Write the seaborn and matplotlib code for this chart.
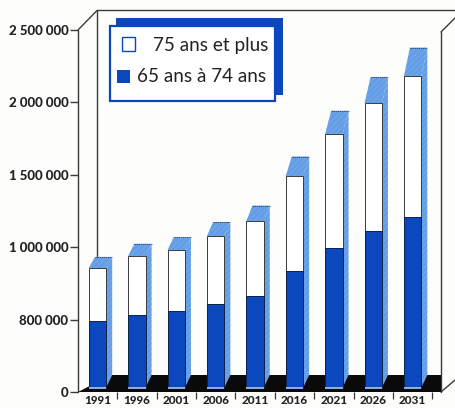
import matplotlib
matplotlib.use("Agg")
import matplotlib.pyplot as plt
import numpy as np
import pandas as pd
import seaborn as sns
from matplotlib.patches import Polygon, Rectangle

# valeurs
years = ["1991", "1996", "2001", "2006", "2011", "2016", "2021", "2026", "2031"]
age_65_74 = [490000, 532000, 559000, 608000, 663000, 836000, 994000, 1112000, 1209000]
total_65_plus = [856000, 939000, 981000, 1077000, 1181000, 1492000, 1782000, 1996000, 2182000]
y_ticks = [0, 500000, 1000000, 1500000, 2000000, 2500000]
y_tick_labels = ["0", "800 000", "1 000 000", "1 500 000", "2 000 000", "2 500 000"]
legend_labels = ["75 ans et plus", "65 ans à 74 ans"]

BLUE = "#0b47bd"
LIGHT = "#6aa3e8"
LIGHT_HATCH = "#5590de"
LINE = "#3a3a3a"
PAPER = "#fdfdfc"
BASE = 31000

W, H = 455, 408
sns.set_theme(style="white")
plt.rcParams["font.family"] = ["Lato", "DejaVu Sans"]
plt.rcParams["hatch.linewidth"] = 0.4

# les barres partent du bas du sol (BASE), pas de zero
df = pd.DataFrame({"year": years,
                   "young": np.array(age_65_74) - BASE,
                   "total": np.array(total_65_plus) - BASE})

fig = plt.figure(figsize=(W / 100, H / 100), dpi=100, facecolor=PAPER)

# cadre "3D" en pixels, derriere le graphique
bg = fig.add_axes([0, 0, 1, 1], zorder=0)
bg.set_xlim(0, W)
bg.set_ylim(H, 0)
bg.axis("off")
bg.plot([78, 97, W], [30, 10.5, 10.5], color=LINE, lw=1)
bg.plot([97, 97], [10.5, 280], color=LINE, lw=1)
bg.plot([78, 78], [30, 392], color=LINE, lw=1)
bg.plot([441, 441], [32, 392], color=LINE, lw=1)
bg.plot([441, W], [32, 18], color=LINE, lw=1)
bg.plot([441, W], [392, 380], color=LINE, lw=1)

x0, x1, y_top, y_bot = 78, 441, 30, 392
ax = fig.add_axes([x0 / W, 1 - y_bot / H, (x1 - x0) / W, (y_bot - y_top) / H], zorder=1)
ax.patch.set_alpha(0)

sns.barplot(data=df, x="year", y="total", color="white", saturation=1, width=0.44,
            bottom=BASE, edgecolor=LINE, linewidth=0.7, ax=ax, zorder=3)
n_total = len(ax.patches)
sns.barplot(data=df, x="year", y="young", color=BLUE, saturation=1, width=0.44,
            bottom=BASE, edgecolor="#10204a", linewidth=0.7, ax=ax, zorder=4)
ax.set_xlim(-0.495, 8.72)
ax.set_ylim(0, 2500000)

# profondeur: decalage horizontal fixe, hauteur proportionnelle a la barre
depth_x = 6 / 39.375
floor_back = 117000
for bar in ax.patches[:n_total]:
    left, right = bar.get_x(), bar.get_x() + bar.get_width()
    top = bar.get_y() + bar.get_height()
    rise = 0.09 * top
    side = [(right, BASE), (right + depth_x, floor_back), (right + depth_x, top + rise), (right, top)]
    roof = [(left, top), (right, top), (right + depth_x, top + rise), (left + depth_x, top + rise)]
    for pts in (side, roof):
        ax.add_patch(Polygon(pts, facecolor=LIGHT, edgecolor=LIGHT_HATCH, hatch="//////",
                             lw=0, zorder=2.5))
    ax.plot([left + depth_x, right + depth_x], [top + rise, top + rise],
            color="#24324f", lw=0.5, ls=(0, (2, 1)), zorder=3.5)
    ax.plot([left, right], [BASE, BASE], color="#a9c6ee", lw=1.2, zorder=5, solid_capstyle="butt")

# sol noir
ax.add_patch(Polygon([(-0.495, 0), (8.72, 0), (8.72, floor_back), (0.35, floor_back)],
                     facecolor="#0a0a0a", edgecolor="none", zorder=2, clip_on=False))

ax.set_xlabel("")
ax.set_ylabel("")
ax.set_yticks(y_ticks, y_tick_labels, fontsize=9.5, fontweight="black", color="#222222")
ax.set_xticks(range(len(years)), years, fontsize=8.5, fontweight="black", color="#222222")
ax.tick_params(axis="x", which="major", length=0, pad=2)
ax.tick_params(axis="y", which="major", length=6, width=1, color=LINE, pad=1, left=True)
ax.set_xticks(np.arange(len(years)) + 0.5, minor=True)
ax.tick_params(axis="x", which="minor", length=5, width=0.9, color=LINE, bottom=True)
sns.despine(ax=ax, left=True, bottom=True)
ax.grid(False)

# legende en pixels
lg = fig.add_axes([0, 0, 1, 1], zorder=2)
lg.set_xlim(0, W)
lg.set_ylim(H, 0)
lg.axis("off")
lg.add_patch(Rectangle((116, 18), 167, 77, facecolor=BLUE, edgecolor="none"))
lg.add_patch(Rectangle((110, 26), 165, 75, facecolor="white", edgecolor=BLUE, lw=1.6))
lg.add_patch(Rectangle((121.5, 37), 13.5, 14, facecolor="white", edgecolor=BLUE, lw=1))
lg.add_patch(Rectangle((117, 70), 13, 13, facecolor=BLUE, edgecolor="none"))
lg.text(153, 46, legend_labels[0], fontsize=13.6, color="#222222", va="center", ha="left")
lg.text(137, 77, legend_labels[1], fontsize=13.6, color="#222222", va="center", ha="left")

fig.savefig("out.png", dpi=100, facecolor=PAPER)
